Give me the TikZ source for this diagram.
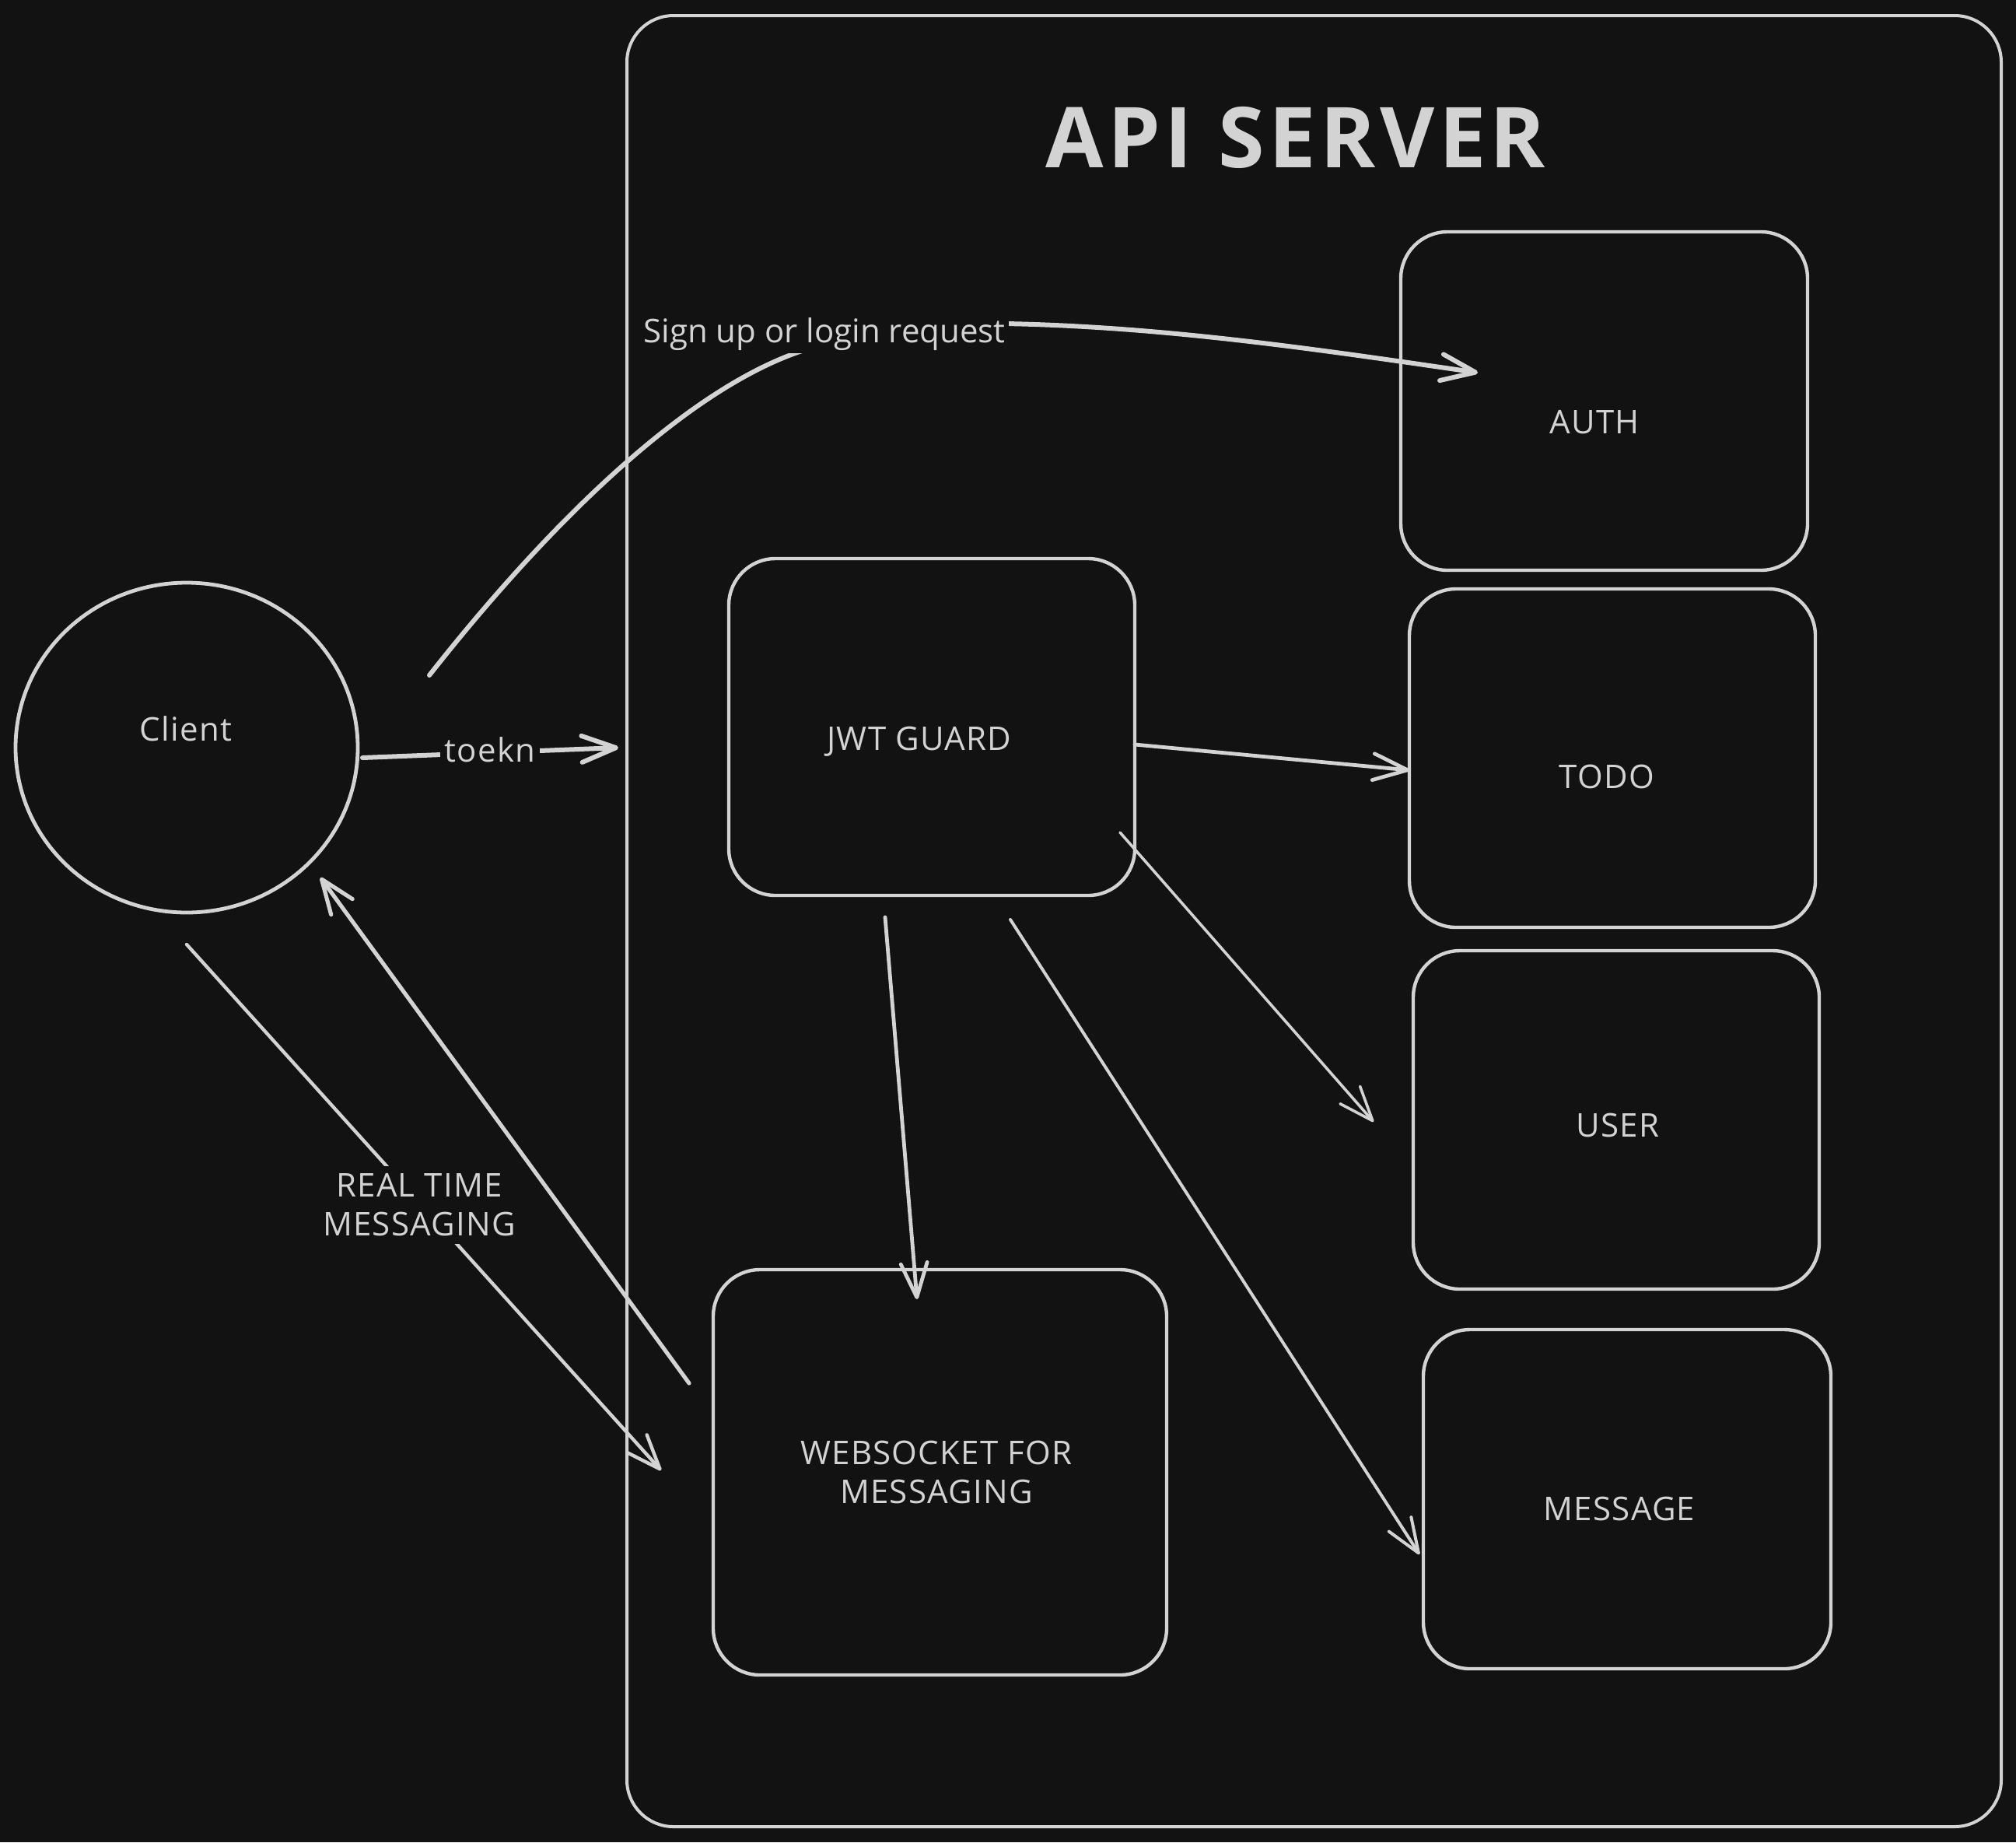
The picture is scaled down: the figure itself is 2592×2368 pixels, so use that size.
\documentclass[tikz,border=0pt]{standalone}
\usepackage{fontspec}
\setmainfont{Open Sans}
\usetikzlibrary{arrows.meta,shapes.geometric}
\definecolor{bg}{HTML}{121212}
\definecolor{ink}{HTML}{D3D3D3}
\begin{document}
\begin{tikzpicture}[x=0.5pt,y=-0.5pt,
  box/.style={draw=ink, line width=2.2pt, rounded corners=30pt, inner sep=0pt, outer sep=0pt},
  lbl/.style={text=ink, font=\fontsize{21}{25}\selectfont\addfontfeatures{LetterSpace=3}, inner sep=0pt},
  conn/.style={draw=ink, line cap=round, line join=round, -{Straight Barb[length=22pt,width=17pt,line cap=round,round]}},
]
\fill[bg] (0,0) rectangle (2592,2368);
\useasboundingbox (0,0) rectangle (2592,2368);

% API server frame and title
\node[box, line width=2pt, minimum width=883.5pt, minimum height=1164pt] (server) at (1689.5,1184) {};
\node[lbl, font=\fontsize{54}{60}\selectfont\bfseries\addfontfeatures{LetterSpace=5}, anchor=base] (title) at (1666,215) {API SERVER};

% boxes
\node[box, minimum width=261.5pt, minimum height=217.5pt] (auth) at (2062.5,515.5) {};
\node[box, minimum width=261pt, minimum height=217.5pt] (todo) at (2073,974.5) {};
\node[box, minimum width=261pt, minimum height=217.5pt] (user) at (2078,1439.5) {};
\node[box, minimum width=262pt, minimum height=218pt] (message) at (2092,1927) {};
\node[box, minimum width=261pt, minimum height=216.5pt] (jwt) at (1198,934.5) {};
\node[box, minimum width=291.5pt, minimum height=260.5pt] (ws) at (1208.5,1892.5) {};
\node[ellipse, draw=ink, line width=2.4pt, minimum width=220pt, minimum height=212pt, inner sep=0pt] (client) at (240,961) {};

% box labels
\node[lbl, anchor=base] (authl) at (2050,557) {AUTH};
\node[lbl, anchor=base] (todol) at (2066,1013) {TODO};
\node[lbl, anchor=base] (userl) at (2080,1461) {USER};
\node[lbl, anchor=base] (messagel) at (2082,1954) {MESSAGE};
\node[lbl, anchor=base] (jwtl) at (1182,964) {JWT GUARD};
\node[lbl, align=center] (wsl) at (1204,1892) {WEBSOCKET FOR\\MESSAGING};
\node[lbl, anchor=base] (clientl) at (239,952) {Client};

% connector end points
\coordinate (su1) at (552,868);
\coordinate (su2) at (1900,479);
\coordinate (tk1) at (466,974);
\coordinate (tk2) at (795,961);
\coordinate (jt1) at (1459,957);
\coordinate (jt2) at (1812,990);
\coordinate (ju1) at (1440,1070);
\coordinate (ju2) at (1766,1442);
\coordinate (jw1) at (1138,1179);
\coordinate (jw2) at (1179,1670);
\coordinate (jm1) at (1299,1182);
\coordinate (jm2) at (1825,1998);
\coordinate (wc1) at (886,1778);
\coordinate (wc2) at (412,1128);
\coordinate (cw1) at (240,1214);
\coordinate (cw2) at (850,1890);

% connectors
\draw[conn, line width=3pt] (su1) .. controls (700,680) and (880,500) .. (1034,450)
  .. controls (1110,428) and (1200,416) .. (1293,416)
  .. controls (1500,420) and (1700,450) .. (su2);
\node[lbl, fill=bg, anchor=base, inner sep=2pt, font=\fontsize{21}{25}\selectfont] (sul) at (1060,440) {Sign up or login request};

\draw[conn, line width=3pt] (tk1) -- (tk2);
\node[lbl, fill=bg, anchor=base, inner sep=3pt] (tkl) at (630,979) {toekn};

\draw[conn, line width=2.4pt] (jt1) -- (jt2);
\draw[conn, line width=1.8pt] (ju1) -- (ju2);
\draw[conn, line width=2.4pt] (jw1) -- (jw2);
\draw[conn, line width=2pt] (jm1) -- (jm2);
\draw[conn, line width=2.6pt] (wc1) -- (wc2);
\draw[conn, line width=2.2pt] (cw1) -- (cw2);
\node[lbl, fill=bg, align=center, inner sep=5pt] (cwl) at (539,1549) {REAL TIME\\MESSAGING};
\end{tikzpicture}
\end{document}
